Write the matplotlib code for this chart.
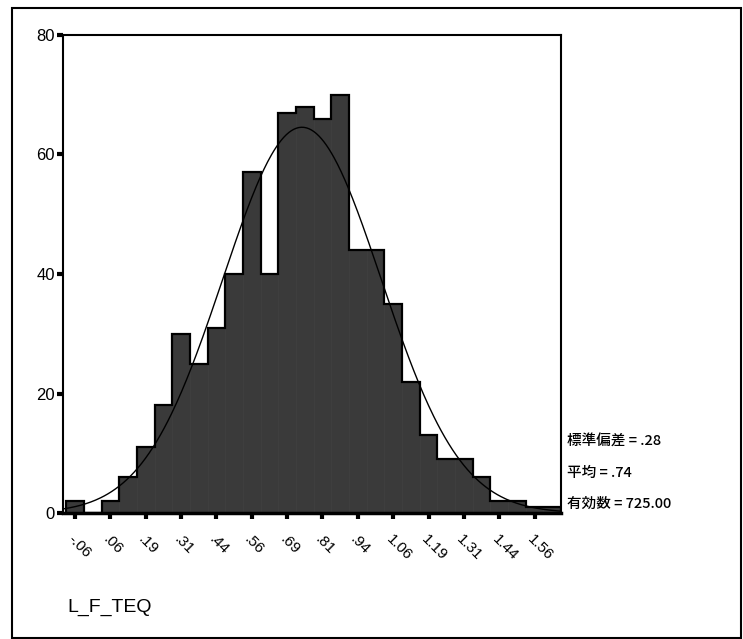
import numpy as np
import matplotlib.pyplot as plt
from matplotlib.patches import Rectangle

# histogram of L_F_TEQ, bin width 0.0625
bin_width = 0.0625
bin_centers = np.arange(28) * bin_width - 0.0625
counts = [2, 0, 2, 6, 11, 18, 30, 25, 31, 40, 57, 40, 67, 68,
          66, 70, 44, 44, 35, 22, 13, 9, 9, 6, 2, 2, 1, 1]

tick_values = np.arange(14) * 0.125 - 0.0625
tick_labels = ['-.06', '.06', '.19', '.31', '.44', '.56', '.69', '.81',
               '.94', '1.06', '1.19', '1.31', '1.44', '1.56']

std_dev = 0.28
mean = 0.74
n_valid = 725.00

plt.rcParams['font.family'] = ['Liberation Sans Narrow', 'Liberation Sans', 'DejaVu Sans']

fig = plt.figure(figsize=(7.43, 6.39), dpi=100)
ax = fig.add_axes([63/743, 1 - 513/639, (561 - 63)/743, (513 - 35)/639])

# filled bars without inner dividers, then the outline of the whole histogram
ax.bar(bin_centers, counts, width=bin_width, color='#3a3a3a',
       edgecolor='#3a3a3a', linewidth=0.5, zorder=2)
edges = np.append(bin_centers - bin_width / 2, bin_centers[-1] + bin_width / 2)
ax.stairs(counts, edges, baseline=0, fill=False, color='black', linewidth=1.6, zorder=2.5)

# fitted normal curve
xs = np.linspace(-0.105, 1.656, 400)
ys = n_valid * bin_width / (std_dev * np.sqrt(2 * np.pi)) * np.exp(-0.5 * ((xs - mean) / std_dev) ** 2)
ax.plot(xs, ys, color='black', linewidth=1.0, zorder=3)

ax.set_xlim(-0.105, 1.656)
ax.set_ylim(0, 80)
ax.set_yticks([0, 20, 40, 60, 80])
ax.set_yticklabels(['0', '20', '40', '60', '80'], fontsize=12)
ax.set_xticks(tick_values)
ax.set_xticklabels(tick_labels, fontsize=11, rotation=-45,
                   ha='left', va='top', rotation_mode='anchor')
ax.tick_params(axis='both', direction='out', length=4, width=3, color='black')
ax.tick_params(axis='x', pad=10)
ax.tick_params(axis='y', pad=2)
for side in ['left', 'right', 'top']:
    ax.spines[side].set_linewidth(1.5)
ax.spines['bottom'].set_linewidth(2.5)

# statistics block to the right of the plot
stats = ['標準偏差 = .28', '平均 = .74', '有効数 = 725.00']
for i, s in enumerate(stats):
    fig.text(567/743, 1 - (442 + i*31)/639, s, fontsize=10.5, ha='left', va='center',
             fontweight='medium', family=['Noto Sans CJK JP', 'DejaVu Sans'])

fig.text(67/743, 1 - 607/639, 'L_F_TEQ', fontsize=14, ha='left', va='center',
         family=['Liberation Sans', 'DejaVu Sans'])

# outer border
fig.patches.append(Rectangle((12/743, 1.5/639), (741 - 12)/743, (631 - 1.5)/639,
                             transform=fig.transFigure, fill=False,
                             edgecolor='black', linewidth=1.5))

fig.savefig('out.png', dpi=100)
